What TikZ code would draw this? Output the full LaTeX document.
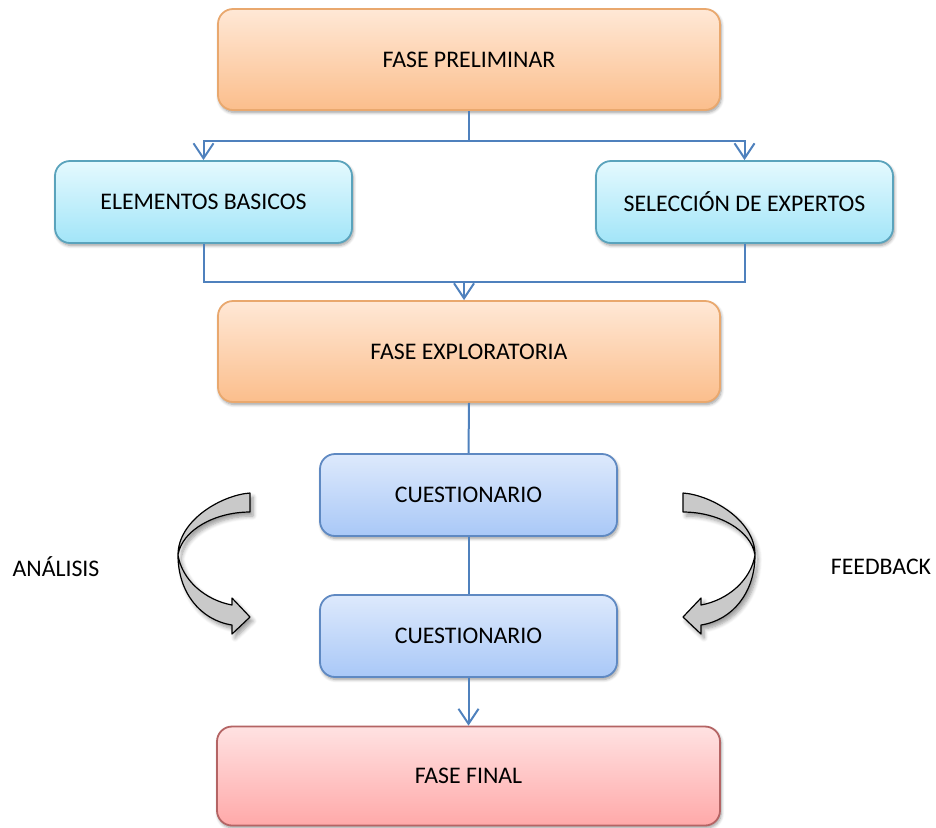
\documentclass[tikz,border=0pt]{standalone}
\usepackage{fontspec}
\setmainfont{Carlito}
\usetikzlibrary{arrows.meta,shadows.blur}

\definecolor{link}{HTML}{4F81BD}
\definecolor{orTop}{HTML}{FFE8D6}
\definecolor{orBot}{HTML}{FBBE8C}
\definecolor{orLine}{HTML}{E9A86E}
\definecolor{cyTop}{HTML}{E4F9FE}
\definecolor{cyBot}{HTML}{A2E5F8}
\definecolor{cyLine}{HTML}{5AA3BC}
\definecolor{blTop}{HTML}{DDE9FC}
\definecolor{blBot}{HTML}{A9C8F7}
\definecolor{blLine}{HTML}{5F89C2}
\definecolor{rdTop}{HTML}{FFE2E2}
\definecolor{rdBot}{HTML}{FFA9A9}
\definecolor{rdLine}{HTML}{B46464}
\definecolor{bend}{HTML}{C9C9C9}

\tikzset{
  box/.style={rounded corners=7.5pt, line width=0.9pt, align=center,
    font=\fontsize{11.9pt}{14pt}\selectfont,
    blur shadow={shadow xshift=0.6pt, shadow yshift=-1.2pt, shadow blur radius=1.6pt, shadow blur steps=6}},
  phase/.style={box, draw=orLine, top color=orTop, bottom color=orBot,
    minimum width=251pt, minimum height=50.5pt},
  basic/.style={box, draw=cyLine, top color=cyTop, bottom color=cyBot,
    minimum width=148.5pt, minimum height=41pt},
  quest/.style={box, draw=blLine, top color=blTop, bottom color=blBot,
    minimum width=148.5pt, minimum height=41pt},
  closing/.style={box, draw=rdLine, top color=rdTop, bottom color=rdBot,
    minimum width=251.5pt, minimum height=49.5pt},
  link/.style={draw=link, line width=1pt},
  arr/.style={link, -{Straight Barb[length=7.5pt, width=10pt, line width=1pt]}},
  bentshape/.style={fill=bend, draw=black, line width=0.6pt, line join=round,
    blur shadow={shadow xshift=1.5pt, shadow yshift=-2pt, shadow blur radius=2pt, shadow blur steps=6}},
  side/.style={font=\fontsize{11.9pt}{14pt}\selectfont}
}

\begin{document}
\begin{tikzpicture}[x=0.5pt, y=-0.5pt]
  \useasboundingbox (0,0) rectangle (936,827);

  % stages
  \node[phase]   (pre)   at (469,59.5)  {FASE PRELIMINAR};
  \node[basic]   (elem)  at (203.5,202) {ELEMENTOS BASICOS};
  \node[basic]   (sel)   at (744.5,202) {SELECCIÓN DE EXPERTOS};
  \node[phase]   (expl)  at (469,351.5) {FASE EXPLORATORIA};
  \node[quest]   (q1)    at (468.5,495) {CUESTIONARIO};
  \node[quest]   (q2)    at (468.5,636) {CUESTIONARIO};
  \node[closing] (final) at (468.5,776) {FASE FINAL};

  % side labels
  \node[side] (ana)  at (56,567)  {ANÁLISIS};
  \node[side] (feed) at (881,567) {FEEDBACK};

  % split after the preliminary phase
  \coordinate (split) at (469,141);
  \draw[link] (pre.south) -- (split);
  \draw[arr] (split) -| (elem.north);
  \draw[arr] (split) -| (sel.north);

  % merge into the exploratory phase
  \coordinate (merge) at (464,282);
  \draw[link] (elem.south) |- (merge);
  \draw[link] (sel.south) |- (merge);
  \draw[arr] (merge) -- (merge |- expl.north);

  % questionnaire rounds
  \draw[link] (expl.south) -- (q1.north);
  \draw[link] (q1.south) -- (q2.north);
  \draw[arr] (q2.south) -- (final.north);

  % twisted bent arrow on the left (analysis)
  \path[bentshape] (250,493) .. controls (222,495) and (178,520) .. (178,555)
    .. controls (178,592) and (200,620) .. (232,625) -- (232,634) -- (250,617)
    -- (232,598) -- (232,605) .. controls (205,600) and (182,580) .. (178,555)
    .. controls (182,530) and (215,512) .. (250,512) -- cycle;

  % twisted bent arrow on the right (feedback)
  \path[bentshape] (683,493) .. controls (711,495) and (755,520) .. (755,555)
    .. controls (755,592) and (733,620) .. (701,625) -- (701,634) -- (683,617)
    -- (701,598) -- (701,605) .. controls (728,600) and (751,580) .. (755,555)
    .. controls (751,530) and (718,512) .. (683,512) -- cycle;
\end{tikzpicture}
\end{document}
